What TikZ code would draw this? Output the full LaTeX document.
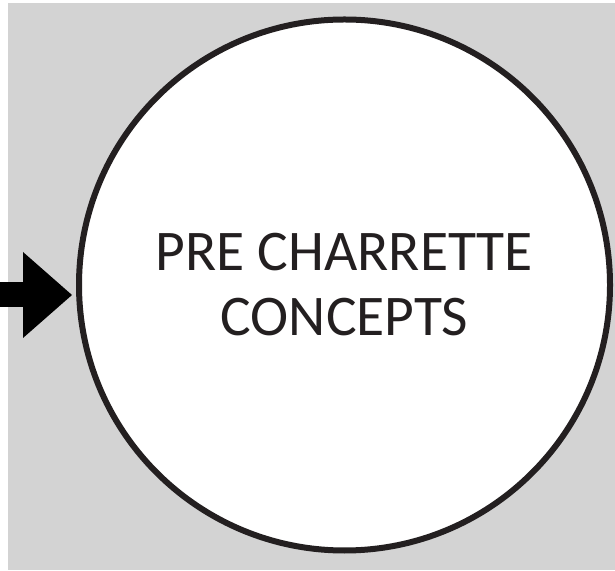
\documentclass[tikz,border=0pt]{standalone}
\usepackage{fontspec}
\setmainfont{Carlito}
\usetikzlibrary{arrows.meta}
\definecolor{bggray}{HTML}{D3D3D3}
\definecolor{ink}{HTML}{231F20}
\begin{document}
\begin{tikzpicture}[x=1pt,y=1pt,
  concept/.style={circle, draw=ink, line width=6pt, fill=white, minimum size=531pt,
    inner sep=0pt, outer sep=0pt, align=center, text=ink,
    font=\fontsize{57.5}{65}\selectfont},
  feed/.style={line width=25pt, draw=black,
    -{Triangle[length=49pt,width=86pt,line width=0pt]}}]
\useasboundingbox (0,0) rectangle (615,570);
\fill[white] (0,0) rectangle (615,570);
\fill[bggray] (8,0) rectangle (615,567);
\node[concept] (pc) at (344.5,285) {PRE CHARRETTE\\CONCEPTS};
\coordinate (src) at (-2,275);
\draw[feed, shorten >=7pt] (src) -- (src -| pc.west);
\end{tikzpicture}
\end{document}
